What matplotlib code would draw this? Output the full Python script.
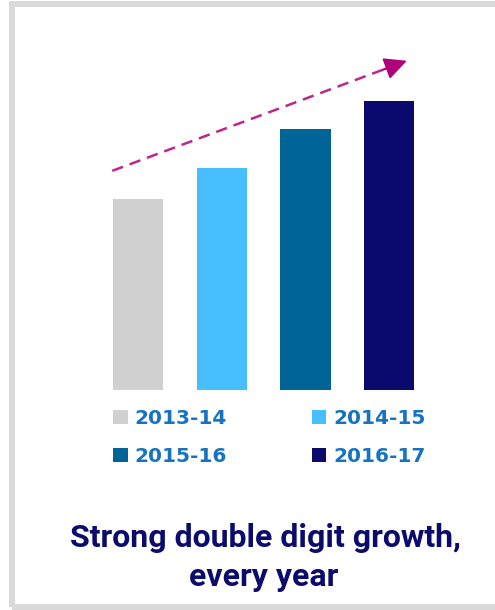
import matplotlib.pyplot as plt
from matplotlib.patches import Rectangle, Patch

years = ['2013-14', '2014-15', '2015-16', '2016-17']
values = [100, 116, 136.5, 151.5]
colors = ['#D0D0D0', '#47BFFF', '#006496', '#0A0A6E']
title_lines = ['Strong double digit growth,', 'every year']

fig = plt.figure(figsize=(4.95, 6.10), dpi=100)

# grey frame around the panel (right side runs off the picture)
frame = Rectangle((12 / 495, 3 / 610), 540 / 495, 603 / 610, transform=fig.transFigure,
                  fill=False, edgecolor='#D9D9D9', linewidth=4.3, clip_on=False)
fig.patches.append(frame)

ax = fig.add_axes([0.1946, 0.3607, 0.6764, 0.5738])
x = list(range(len(years)))
ax.bar(x, values, width=0.6, color=colors)
ax.set_xlim(-0.5, 3.5)
ax.set_ylim(0, 183.2)
ax.axis('off')

# dashed trend arrow above the bars
start = (x[0] - 0.31, values[0] + 14.7)
end = (x[-1] + 0.21, values[-1] + 20.8)
frac = 0.92
mid = (start[0] + (end[0] - start[0]) * frac, start[1] + (end[1] - start[1]) * frac)
line, = ax.plot([start[0], mid[0]], [start[1], mid[1]], color='#C0258C', lw=1.8)
line.set_dashes((4.6, 2.8))
ax.annotate('', xy=end, xytext=mid,
            arrowprops=dict(arrowstyle='-|>,head_length=0.85,head_width=0.42',
                            color='#B0007A', lw=1.5, shrinkA=0, shrinkB=0,
                            mutation_scale=16))

# legend, ordered so rows read 2013-14 / 2014-15, 2015-16 / 2016-17
order = [0, 2, 1, 3]
handles = [Patch(facecolor=colors[i], label=years[i]) for i in order]
fig.legend(handles=handles, ncol=2, loc='upper left',
           bbox_to_anchor=(113 / 495, 1 - 409 / 610), frameon=False,
           borderpad=0, borderaxespad=0, handlelength=0.72, handleheight=0.72,
           handletextpad=0.35, columnspacing=4.2, labelspacing=0.95,
           prop={'family': 'DejaVu Sans', 'weight': 'bold', 'size': 14.5},
           labelcolor='#1673C1')

fig.text(265 / 495, 1 - 547 / 610, title_lines[0], ha='center', va='baseline',
         family='Roboto', weight='bold', fontsize=23, color='#0B0B6E')
fig.text(263.5 / 495, 1 - 586 / 610, title_lines[1], ha='center', va='baseline',
         family='Roboto', weight='bold', fontsize=23, color='#0B0B6E')

fig.savefig('out.png', dpi=100)
